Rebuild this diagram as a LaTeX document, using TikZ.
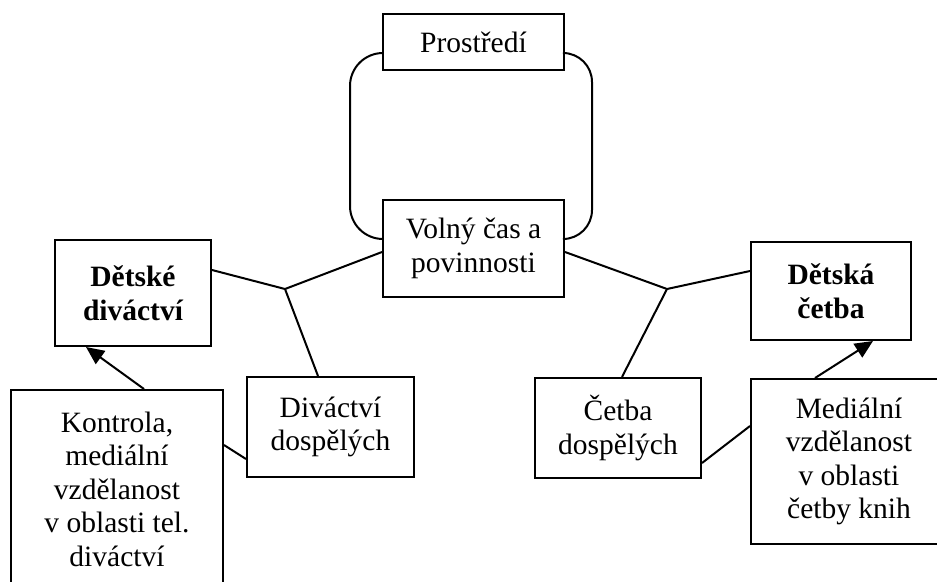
\documentclass[tikz,border=0pt]{standalone}
\usepackage{fontspec}
\setmainfont{Liberation Serif}
\usetikzlibrary{arrows.meta,calc}
\begin{document}
\begin{tikzpicture}[x=1pt,y=-1pt,
  box/.style={draw,line width=2pt,inner sep=0pt,align=center,
    font=\fontsize{29.5}{33.5}\selectfont},
  conn/.style={line width=2pt},
  arr/.style={line width=2pt,-{Triangle[length=18pt,width=16pt]}}]
\clip (0,0) rectangle (937,581);
\fill[white] (0,0) rectangle (937,581);
\node[box,minimum width=181pt,minimum height=56pt] (pr) at (473.5,42) {Prostředí};
\node[box,minimum width=181pt,minimum height=97pt] (vc) at (473.5,248.5) {Volný čas a\\povinnosti};
\node[box,minimum width=156pt,minimum height=106pt,font=\fontsize{29.5}{33.5}\selectfont\bfseries] (dd) at (133,293) {Dětské\\diváctví};
\node[box,minimum width=160pt,minimum height=98pt,font=\fontsize{29.5}{33.5}\selectfont\bfseries] (dc) at (831,291) {Dětská\\četba};
\node[box,minimum width=167pt,minimum height=100pt] (dv) at (330.5,427) {Diváctví\\dospělých};
\node[box,minimum width=166pt,minimum height=100pt] (ce) at (618,428) {Četba\\dospělých};
\node[box,minimum width=212pt,minimum height=198pt] (ko) at (117,489) {Kontrola,\\mediální\\vzdělanost\\v oblasti tel.\\diváctví};
\node[box,minimum width=196pt,minimum height=165pt] (me) at (849,461.5) {Mediální\\vzdělanost\\v oblasti\\četby knih};
\coordinate (jl) at (285,289);
\coordinate (jr) at (667,289);
\coordinate (lx) at (350,0);
\coordinate (rx) at (592,0);
% loop
\draw[conn,rounded corners=33pt] ([yshift=-11pt]pr.west) -| ([yshift=9.5pt]vc.west -| lx) -- ([yshift=9.5pt]vc.west);
\draw[conn,rounded corners=29pt] ([yshift=-11pt]pr.east) -| ([yshift=9.5pt]vc.east -| rx) -- ([yshift=9.5pt]vc.east);
% left cluster
\draw[conn] ([yshift=23pt]dd.east) -- (jl) -- ([yshift=-3.5pt]vc.west);
\draw[conn] (jl) -- ([xshift=-12.5pt]dv.north);
\draw[arr] ([xshift=27pt]ko.north) -- ([xshift=-47pt]dd.south);
\draw[conn] ([yshift=44pt]ko.east) -- ([yshift=-32pt]dv.west);
% right cluster
\draw[conn] ([yshift=-3.5pt]vc.east) -- (jr) -- ([yshift=20pt]dc.west);
\draw[conn] (jr) -- ([xshift=4pt]ce.north);
\draw[arr] ([xshift=-34pt]me.north) -- ([xshift=42pt]dc.south);
\draw[conn] ([yshift=-35pt]ce.east) -- ([yshift=35.5pt]me.west);
\end{tikzpicture}
\end{document}
